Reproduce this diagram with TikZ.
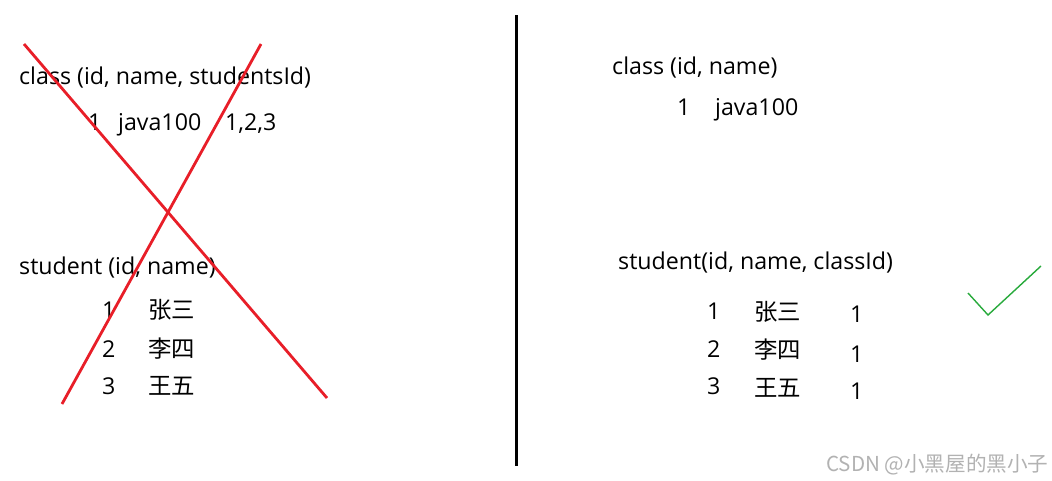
\documentclass[tikz,border=0pt]{standalone}
\usepackage{fontspec}
\setmainfont{Open Sans}
\newfontfamily\cjk{Noto Sans CJK SC}
\definecolor{crossred}{RGB}{232,30,40}
\definecolor{tickgreen}{RGB}{40,170,60}
\begin{document}
\begin{tikzpicture}[x=1pt,y=-1pt,
  txt/.style={anchor=base west,inner sep=0pt,font=\fontsize{23.2}{27}\selectfont},
  cn/.style={anchor=base west,inner sep=0pt,font=\cjk\fontsize{23.4}{27}\selectfont},
  cross/.style={draw=crossred,line width=2.8pt},
  divider/.style={line width=3pt,black},
  tick/.style={draw=tickgreen,line width=1.4pt}]
\useasboundingbox[fill=white] (0,0) rectangle (1052,480);
% left: wrong design
\node[txt] (lc) at (19,84) {class (id, name, studentsId)};
\node[txt] (lc1) at (88,130) {1};
\node[txt] (lc2) at (118,130) {java100};
\node[txt] (lc3) at (225,130) {1,2,3};
\node[txt] (ls) at (19,274) {student (id, name)};
\node[txt] (l1) at (102,318) {1};
\node[cn] (l1n) at (148,318) {张三};
\node[txt] (l2) at (102,357) {2};
\node[cn] (l2n) at (148,357) {李四};
\node[txt] (l3) at (102,394) {3};
\node[cn] (l3n) at (148,394) {王五};
\coordinate (xa1) at (24,44);
\coordinate (xa2) at (327,398);
\coordinate (xb1) at (261,44);
\coordinate (xb2) at (62,404);
\draw[cross] (xa1) -- (xa2);
\draw[cross] (xb1) -- (xb2);
% divider
\coordinate (dt) at (516,15);
\coordinate (db) at (516,466);
\draw[divider] (dt) -- (db);
% right: correct design
\node[txt] (rc) at (612,74) {class (id, name)};
\node[txt] (rc1) at (677,115) {1};
\node[txt] (rc2) at (715,115) {java100};
\node[txt] (rs) at (618,269) {student(id, name, classId)};
\node[txt] (r1) at (707,319) {1};
\node[cn] (r1n) at (754,320) {张三};
\node[txt] (r1c) at (850,322) {1};
\node[txt] (r2) at (707,357) {2};
\node[cn] (r2n) at (754,358) {李四};
\node[txt] (r2c) at (850,362) {1};
\node[txt] (r3) at (707,394) {3};
\node[cn] (r3n) at (754,396) {王五};
\node[txt] (r3c) at (850,399) {1};
\coordinate (ck1) at (968,293);
\coordinate (ck2) at (988,315);
\coordinate (ck3) at (1041,266);
\draw[tick] (ck1) -- (ck2) -- (ck3);
% watermark
\node[anchor=base west,inner sep=0pt,text=black!30,font=\cjk\fontsize{20.6}{24}\selectfont] (wm) at (826,471) {CSDN @小黑屋的黑小子};
\end{tikzpicture}
\end{document}
